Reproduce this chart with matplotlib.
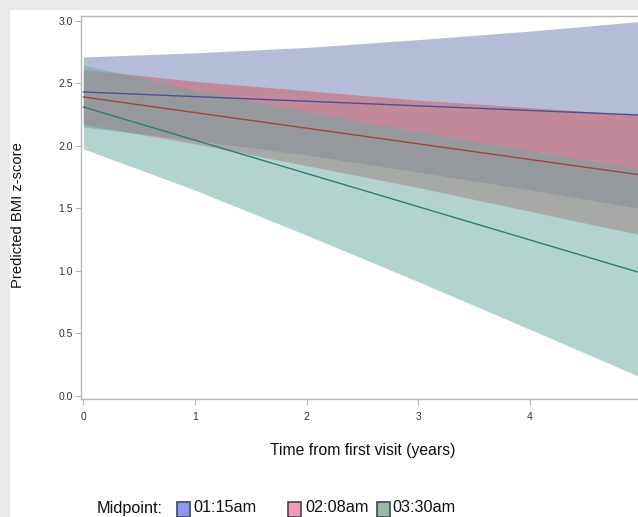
import matplotlib
matplotlib.use("Agg")
import matplotlib.pyplot as plt
from matplotlib.patches import Rectangle
import numpy as np

plt.rcParams['font.family'] = ['Liberation Sans', 'DejaVu Sans']

# ---- data ----
years = [0, 1, 2, 3, 4, 5]
groups = ["01:15am", "02:08am", "03:30am"]

pred_0115 = [2.43, 2.393, 2.356, 2.319, 2.282, 2.245]
lower_0115 = [2.15, 2.043, 1.926, 1.789, 1.647, 1.495]
upper_0115 = [2.71, 2.743, 2.786, 2.849, 2.917, 2.995]

pred_0208 = [2.39, 2.265, 2.14, 2.015, 1.89, 1.765]
lower_0208 = [2.17, 2.015, 1.84, 1.665, 1.475, 1.285]
upper_0208 = [2.61, 2.515, 2.44, 2.365, 2.305, 2.245]

pred_0330 = [2.31, 2.044, 1.778, 1.512, 1.246, 0.98]
lower_0330 = [1.975, 1.645, 1.284, 0.912, 0.53, 0.145]
upper_0330 = [2.645, 2.444, 2.272, 2.112, 1.962, 1.815]

preds = [pred_0115, pred_0208, pred_0330]
lowers = [lower_0115, lower_0208, lower_0330]
uppers = [upper_0115, upper_0208, upper_0330]

yticks = [0.0, 0.5, 1.0, 1.5, 2.0, 2.5, 3.0]
xticks = [0, 1, 2, 3, 4, 5]

# ---- styles ----
band_colors = ['#6d7bb1', '#cf575f', '#69a9a1']
line_colors = ['#4a5294', '#a8403f', '#2a8070']
swatch_colors = ['#9096f4', '#f79ab0', '#93bf9f']
W, H = 638, 517

fig = plt.figure(figsize=(W / 100, H / 100), dpi=100, facecolor='#e8e9eb')
fig.patches.append(Rectangle((10 / W, 0), 1, 1 - 10 / H, transform=fig.transFigure,
                             facecolor='white', edgecolor='none', zorder=-10))

ax = fig.add_axes([81.1 / W, 1 - 399 / H, (647.4 - 81.1) / W, (399 - 15.7) / H])
ax.set_facecolor('white')
ax.set_zorder(1)

for p, lo, up, bc in zip(preds, lowers, uppers, band_colors):
    ax.fill_between(years, lo, up, color=bc, alpha=0.5, linewidth=0)
for p, lc in zip(preds, line_colors):
    ax.plot(years, p, color=lc, linewidth=1.0)

ax.set_xlim(-0.02, 5.05)
ax.set_ylim(-0.026, 3.04)
ax.set_xticks(xticks)
ax.set_xticklabels([str(t) for t in xticks])
ax.set_yticks(yticks)
ax.set_yticklabels([f"{t:.1f}" for t in yticks])

for s in ax.spines.values():
    s.set_color('#b4b4b4')
    s.set_linewidth(1.0)
ax.tick_params(axis='both', colors='#b4b4b4', labelcolor='#333333', labelsize=7.5,
               length=4, width=0.8, direction='out')
ax.tick_params(axis='x', pad=5)
ax.tick_params(axis='y', pad=2)

fig.text(362.5 / W, 1 - 451 / H, "Time from first visit (years)", ha='center', va='center',
         fontsize=11.3, color='#111111')
fig.text(18 / W, 1 - 215.5 / H, "Predicted BMI z-score", ha='center', va='center',
         rotation=90, fontsize=10.6, color='#111111')

# legend (manual)
base_y = 1 - 512.5 / H
fig.text(97 / W, base_y, "Midpoint:", ha='left', va='baseline', fontsize=11.7, color='#111111')
sw_x = [177, 288, 377]
tx_x = [193, 305, 392]
for g, sc, sx, tx in zip(groups, swatch_colors, sw_x, tx_x):
    fig.patches.append(Rectangle((sx / W, 1 - 517 / H), 13 / W, 15 / H, transform=fig.transFigure,
                                 facecolor=sc, edgecolor='#3b4866', linewidth=1.2, zorder=3))
    fig.text(tx / W, base_y, g, ha='left', va='baseline', fontsize=11.7, color='#111111')

fig.savefig('out.png', dpi=100, facecolor=fig.get_facecolor())
